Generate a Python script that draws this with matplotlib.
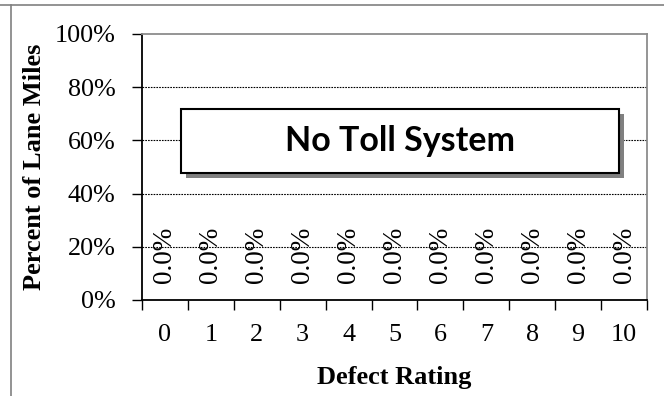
import matplotlib.pyplot as plt
from matplotlib.lines import Line2D
from matplotlib.patches import Rectangle

ratings = [0, 1, 2, 3, 4, 5, 6, 7, 8, 9, 10]
pct_lane_miles = [0.0, 0.0, 0.0, 0.0, 0.0, 0.0, 0.0, 0.0, 0.0, 0.0, 0.0]
yticks = [0, 20, 40, 60, 80, 100]
title = 'No Toll System'

serif = 'Liberation Serif'

fig = plt.figure(figsize=(6.64, 3.96), dpi=100)
ax = fig.add_axes([142 / 664, 1 - 300 / 396, 505 / 664, 266 / 396])

ax.bar(ratings, pct_lane_miles, width=0.6, color='#4f81bd')
for x, v in zip(ratings, pct_lane_miles):
    ax.annotate(f'{v:.1f}%', (x, v), xytext=(0, 12), textcoords='offset points',
                rotation=90, ha='center', va='bottom', fontsize=19.5, family=serif)

ax.set_xlim(-0.5, 10.5)
ax.set_ylim(0, 100)
ax.set_yticks(yticks)
ax.set_yticklabels([f'{t}%' for t in yticks], fontsize=18.8, family=serif)
ax.set_xticks(ratings)
ax.set_xticklabels([str(r) for r in ratings], fontsize=18.8, family=serif)
ax.set_xticks([r - 0.5 for r in ratings] + [10.5], minor=True)
ax.tick_params(axis='x', which='major', length=0, pad=17)
ax.tick_params(axis='x', which='minor', length=7, width=1, direction='out')
ax.tick_params(axis='y', length=7, width=1, direction='out', pad=12)

for y in yticks[1:-1]:
    ax.axhline(y, color='black', linestyle=(0, (1.5, 1)), linewidth=0.8, zorder=0)

for s in ['left', 'bottom']:
    ax.spines[s].set_color('black')
    ax.spines[s].set_linewidth(1.3)
for s in ['top', 'right']:
    ax.spines[s].set_color('#8c8c8c')
    ax.spines[s].set_linewidth(1.3)

ax.set_ylabel('Percent of Lane Miles', fontsize=19, fontweight='bold', family=serif, labelpad=6)
ax.set_xlabel('Defect Rating', fontsize=19, fontweight='bold', family=serif, labelpad=15)

# title box with drop shadow
bx, by, bw, bh = 181 / 664, 1 - 173 / 396, 438 / 664, 64 / 396
fig.patches.append(Rectangle((bx + 5 / 664, by - 5 / 396), bw, bh, transform=fig.transFigure,
                             facecolor='#808080', edgecolor='none', zorder=3))
fig.patches.append(Rectangle((bx, by), bw, bh, transform=fig.transFigure,
                             facecolor='white', edgecolor='black', linewidth=1.5, zorder=4))
fig.text(bx + bw / 2, by + bh / 2, title, ha='center', va='center', fontsize=24.5,
         fontweight='bold', family='Lato', zorder=5)

# outer frame lines
fig.add_artist(Line2D([0, 1], [1 - 5 / 396, 1 - 5 / 396], transform=fig.transFigure,
                      color='#808080', linewidth=1.2))
fig.add_artist(Line2D([11 / 664, 11 / 664], [0, 1 - 5 / 396], transform=fig.transFigure,
                      color='#808080', linewidth=1.2))

fig.savefig('out.png', dpi=100)
